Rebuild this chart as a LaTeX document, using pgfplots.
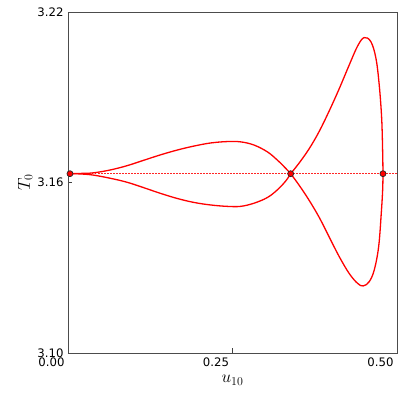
\documentclass[border=0pt]{standalone}
\usepackage{fontspec}
\setmainfont{DejaVu Sans}
\usepackage{pgfplots}
\pgfplotsset{compat=1.18}
\definecolor{lobe}{RGB}{255,0,0}

\begin{document}
\begin{tikzpicture}[x=1pt,y=1pt]
\useasboundingbox (-68,-56) rectangle (341,353);
\begin{axis}[
    at={(0,0)}, anchor=south west,
    scale only axis, width=329pt, height=341pt,
    xmin=0, xmax=0.5, ymin=3.10, ymax=3.22,
    xtick={0,0.25,0.5}, ytick={3.10,3.16,3.22},
    xticklabels={0.00,0.25,0.50}, yticklabels={3.10,3.16,3.22},
    tick pos=left, tick align=inside, major tick length=4.5pt,
    tick style={black!75, line width=0.8pt},
    axis line style={black!70, line width=0.9pt},
    ticklabel style={font=\fontsize{11.7}{13}\selectfont},
    x tick label style={anchor=north east, yshift=-1pt},
    y tick label style={xshift=-1pt},
    xlabel={$u_{10}$}, ylabel={$T_0$},
    label style={font=\fontsize{17}{19}\selectfont},
    xlabel style={at={(0.5,0)}, anchor=north, yshift=-19pt},
    ylabel style={at={(0,0.5)}, anchor=south, yshift=32pt},
    clip=false,
    every axis plot/.append style={line width=1.3pt},
]
% horizontal branch (dotted, drawn as a decorated path of dots)
\addplot[color=lobe!85, line width=1.2pt, dash pattern=on 1.5pt off 1.5pt] coordinates {
    (0,3.1631) (0.5,3.1631)
};
% first lobe, upper
\addplot[color=lobe, smooth, tension=0.6] coordinates {
    (0.003,3.1631) (0.020,3.1632) (0.0386,3.1634) (0.0640,3.1644) (0.0895,3.1659)
    (0.1148,3.1678) (0.1402,3.1697) (0.1657,3.1714) (0.1910,3.1728)
    (0.2165,3.1739) (0.2419,3.1744) (0.2622,3.1743) (0.2825,3.1732)
    (0.3029,3.1708) (0.3181,3.1679) (0.3308,3.1650) (0.3384,3.1631)
};
% first lobe, lower
\addplot[color=lobe, smooth, tension=0.6] coordinates {
    (0.003,3.1631) (0.020,3.1630) (0.0386,3.1626) (0.0640,3.1615) (0.0895,3.1601)
    (0.1148,3.1582) (0.1402,3.1562) (0.1657,3.1544) (0.1910,3.1530)
    (0.2165,3.1521) (0.2419,3.1516) (0.2622,3.1516) (0.2825,3.1527)
    (0.3029,3.1547) (0.3181,3.1574) (0.3308,3.1605) (0.3384,3.1631)
};
% second lobe, upper
\addplot[color=lobe, smooth, tension=0.6] coordinates {
    (0.3384,3.1631) (0.3511,3.1668) (0.3663,3.1718) (0.3816,3.1779)
    (0.3968,3.1851) (0.4120,3.1929) (0.4273,3.2013) (0.4401,3.2080)
    (0.4501,3.2110) (0.4604,3.2095) (0.4680,3.2037) (0.4730,3.1943)
    (0.4767,3.1826) (0.4782,3.1708) (0.4787,3.1631)
};
% second lobe, lower
\addplot[color=lobe, smooth, tension=0.6] coordinates {
    (0.3384,3.1631) (0.3511,3.1591) (0.3663,3.1538) (0.3816,3.1478)
    (0.3968,3.1409) (0.4120,3.1340) (0.4273,3.1280) (0.4401,3.1245)
    (0.4486,3.1236) (0.4578,3.1251) (0.4654,3.1292) (0.4721,3.1374)
    (0.4761,3.1492) (0.4782,3.1574) (0.4787,3.1631)
};
% branch points
\addplot[only marks, mark=*, mark size=3pt,
    mark options={fill=lobe, draw=black!85, line width=0.7pt}] coordinates {
    (0.003,3.1631) (0.3384,3.1631) (0.4787,3.1631)
};
\end{axis}
\end{tikzpicture}
\end{document}
